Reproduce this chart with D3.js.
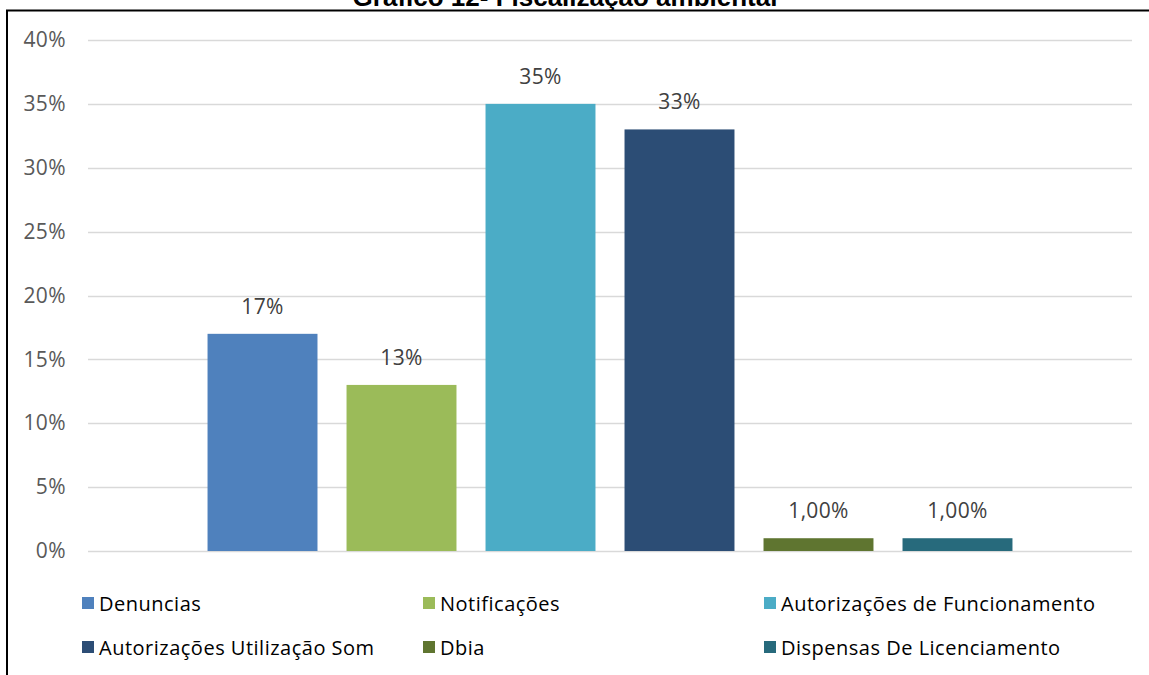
<!DOCTYPE html>
<html>
<head>
<meta charset="utf-8">
<style>
  body { margin: 0; background: #fff; }
</style>
</head>
<body>
  <svg id="svg" width="1149" height="675"></svg>

  <script src="https://cdn.jsdelivr.net/npm/d3@7"></script>
  <script type="text/javascript">
  const title = "Gráfico 12- Fiscalização ambiental";
  const seriesNames = ["Denuncias", "Notificações", "Autorizações de Funcionamento",
                       "Autorizações Utilização Som", "Dbia", "Dispensas De Licenciamento"];
  const seriesValues = [0.17, 0.13, 0.35, 0.33, 0.01, 0.01];
  const valueLabels = ["17%", "13%", "35%", "33%", "1,00%", "1,00%"];
  const seriesColors = ["#4f81bd", "#9bbb59", "#4bacc6", "#2c4d75", "#5f7530", "#276a7c"];
  const yTicks = [0, 0.05, 0.10, 0.15, 0.20, 0.25, 0.30, 0.35, 0.40];

  const font = "'Open Sans', sans-serif";
  const svg = d3.select("#svg");

  // frame (top and left edges visible)
  svg.append("line").attr("x1", 6).attr("x2", 1149).attr("y1", 10.5).attr("y2", 10.5)
    .style("stroke", "#000").style("stroke-width", 2);
  svg.append("line").attr("x1", 7).attr("x2", 7).attr("y1", 10).attr("y2", 675)
    .style("stroke", "#000").style("stroke-width", 2);

  svg.append("text").text(title)
    .attr("x", 565).attr("y", 6)
    .attr("text-anchor", "middle")
    .attr("font-family", "'Liberation Sans', Arial, sans-serif")
    .attr("font-weight", "bold")
    .attr("font-size", 26)
    .attr("fill", "#000");

  const plot = { left: 88, right: 1132, top: 40, bottom: 551 };

  const y = d3.scaleLinear().domain([0, 0.40]).range([plot.bottom, plot.top]);
  const x = d3.scaleBand().domain(seriesNames).range([plot.left, plot.right])
    .paddingInner(0.209).paddingOuter(0.86);

  // gridlines
  svg.append("g").selectAll("line").data(yTicks).enter().append("line")
    .attr("x1", plot.left).attr("x2", plot.right)
    .attr("y1", d => Math.round(y(d)) + 0.5).attr("y2", d => Math.round(y(d)) + 0.5)
    .style("stroke", "#d9d9d9").style("stroke-width", 1.5);

  // y axis labels
  const yAxis = d3.axisLeft(y).tickValues(yTicks).tickFormat(d3.format(".0%")).tickSize(0).tickPadding(0);
  const ga = svg.append("g").attr("transform", "translate(66,0)").call(yAxis);
  ga.select(".domain").remove();
  ga.selectAll("text")
    .attr("font-family", font).attr("font-size", 21).attr("letter-spacing", "0.4px")
    .attr("fill", "#595959");

  // bars
  const data = seriesNames.map((s, i) => ({ name: s, value: seriesValues[i], label: valueLabels[i], color: seriesColors[i] }));
  const g = svg.append("g");
  g.selectAll("rect").data(data).enter().append("rect")
    .attr("x", d => x(d.name))
    .attr("width", x.bandwidth())
    .attr("y", d => y(d.value))
    .attr("height", d => y(0) - y(d.value))
    .style("fill", d => d.color);

  g.selectAll("text").data(data).enter().append("text")
    .text(d => d.label)
    .attr("x", d => x(d.name) + x.bandwidth() / 2)
    .attr("y", d => y(d.value) - 20)
    .attr("text-anchor", "middle")
    .attr("font-family", font).attr("font-size", 21).attr("letter-spacing", "0.3px")
    .attr("fill", "#404040");

  // legend
  const legX = [82, 423, 764];
  const legY = [603, 647];
  const lg = svg.append("g").selectAll("g").data(data).enter().append("g")
    .attr("transform", (d, i) => "translate(" + legX[i % 3] + "," + legY[Math.floor(i / 3)] + ")");
  lg.append("rect").attr("x", 0).attr("y", -6).attr("width", 12).attr("height", 12)
    .style("fill", d => d.color);
  lg.append("text").text(d => d.name)
    .attr("x", 17).attr("y", 1).attr("dy", "0.35em")
    .attr("font-family", font).attr("font-size", 20).attr("letter-spacing", "0.5px")
    .attr("fill", "#000");
  </script>
</body>
</html>
